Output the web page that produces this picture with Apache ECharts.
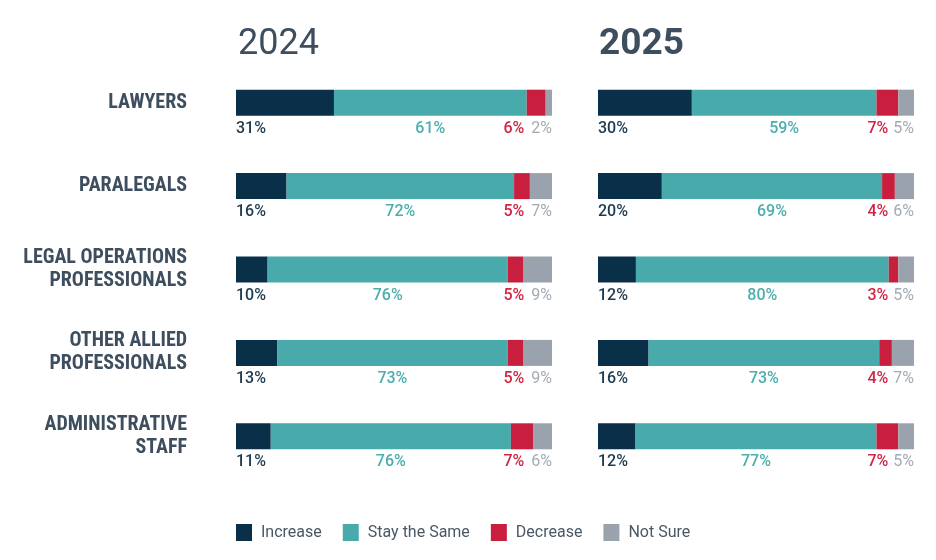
<!DOCTYPE html>
<html>
<head>
<meta charset="utf-8">
<script src="https://cdn.jsdelivr.net/npm/echarts@6/dist/echarts.min.js"></script>
<style>
  html, body { margin: 0; padding: 0; background: #fff; }
  #chart { width: 936px; height: 560px; }
</style>
</head>
<body>
<div id="chart"></div>
<script>
const roles = ["LAWYERS", "PARALEGALS", "LEGAL OPERATIONS\nPROFESSIONALS", "OTHER ALLIED\nPROFESSIONALS", "ADMINISTRATIVE\nSTAFF"];
const years = ["2024", "2025"];
const answers = ["Increase", "Stay the Same", "Decrease", "Not Sure"];

// percent of respondents, per role
const increase2024 = [31, 16, 10, 13, 11];
const same2024 = [61, 72, 76, 73, 76];
const decrease2024 = [6, 5, 5, 5, 7];
const notSure2024 = [2, 7, 9, 9, 6];

const increase2025 = [30, 20, 12, 16, 12];
const same2025 = [59, 69, 80, 73, 77];
const decrease2025 = [7, 4, 3, 4, 7];
const notSure2025 = [5, 6, 5, 7, 5];

const barColors = ["#0a3049", "#48aaaa", "#c81f3e", "#9aa3ad"];
const textColors = ["#1c3a50", "#4caead", "#cf2546", "#a2aab3"];
const FONT = "Roboto, 'Noto Sans', sans-serif";
const LABEL_FONT = "'Liberation Sans Narrow', 'Roboto Condensed', Roboto, sans-serif";

const byYear = [
  [increase2024, same2024, decrease2024, notSure2024],
  [increase2025, same2025, decrease2025, notSure2025],
];

function seriesFor(yearIdx) {
  const groups = byYear[yearIdx];
  // bars fill the full width even where the rounded shares don't add up to 100
  const totals = roles.map((_, i) => groups.reduce((s, arr) => s + arr[i], 0));
  const gap = yearIdx === 0 ? 7 : 5;
  return groups.map((vals, k) => {
    const label = { show: false };
    const base = {
      show: true,
      fontFamily: FONT,
      fontSize: 16,
      fontWeight: 500,
      verticalAlign: "middle",
    };
    if (k === 0) {
      Object.assign(label, base, { position: ["0%", "150%"], align: "left", color: textColors[0], formatter: p => vals[p.dataIndex] + "%" });
    } else if (k === 1) {
      Object.assign(label, base, { position: ["50%", "150%"], align: "center", color: textColors[1], formatter: p => vals[p.dataIndex] + "%" });
    } else if (k === 3) {
      Object.assign(label, base, {
        position: ["100%", "150%"],
        align: "right",
        formatter: p => "{d|" + groups[2][p.dataIndex] + "%}{n|" + vals[p.dataIndex] + "%}",
        rich: {
          d: { color: textColors[2], fontFamily: FONT, fontSize: 16, fontWeight: 500, padding: [0, gap, 0, 0] },
          n: { color: textColors[3], fontFamily: FONT, fontSize: 16, fontWeight: 400 },
        },
      });
    }
    return {
      name: answers[k],
      type: "bar",
      stack: "y" + yearIdx,
      xAxisIndex: yearIdx,
      yAxisIndex: yearIdx,
      barWidth: 26,
      itemStyle: { color: barColors[k] },
      label,
      emphasis: { disabled: true },
      data: vals.map((v, i) => v / totals[i] * 100),
    };
  });
}

const gridTop = 61;
const gridHeight = 417;

const chart = echarts.init(document.getElementById("chart"), null, { renderer: "canvas" });
chart.setOption({
  animation: false,
  backgroundColor: "#ffffff",
  title: [
    { text: years[0], left: 233, top: 20, textStyle: { fontFamily: FONT, fontSize: 36, fontWeight: 400, color: "#3d4e5f", lineHeight: 40 } },
    { text: years[1], left: 594, top: 20, textStyle: { fontFamily: FONT, fontSize: 37, fontWeight: 700, color: "#3d4e5f", lineHeight: 40 } },
  ],
  legend: {
    data: answers,
    left: 236,
    top: 524,
    padding: 0,
    icon: "rect",
    itemWidth: 16,
    itemHeight: 17,
    itemGap: 21,
    selectedMode: false,
    textStyle: { fontFamily: FONT, fontSize: 16, color: "#4a5866", padding: [0, 0, 0, 4] },
  },
  grid: [
    { left: 236, width: 316, top: gridTop, height: gridHeight },
    { left: 598, width: 316, top: gridTop, height: gridHeight },
  ],
  xAxis: years.map((_, i) => ({
    type: "value",
    gridIndex: i,
    min: 0,
    max: 100,
    show: false,
  })),
  yAxis: years.map((_, i) => ({
    type: "category",
    gridIndex: i,
    data: roles,
    inverse: true,
    axisLine: { show: false },
    axisTick: { show: false },
    splitLine: { show: false },
    axisLabel: {
      show: i === 0,
      margin: 49,
      align: "right",
      fontFamily: LABEL_FONT,
      fontSize: 20,
      fontWeight: 700,
      lineHeight: 23,
      padding: [3, 0, 0, 0],
      color: "#3e4e5e",
    },
  })),
  series: [...seriesFor(0), ...seriesFor(1)],
});
</script>
</body>
</html>
